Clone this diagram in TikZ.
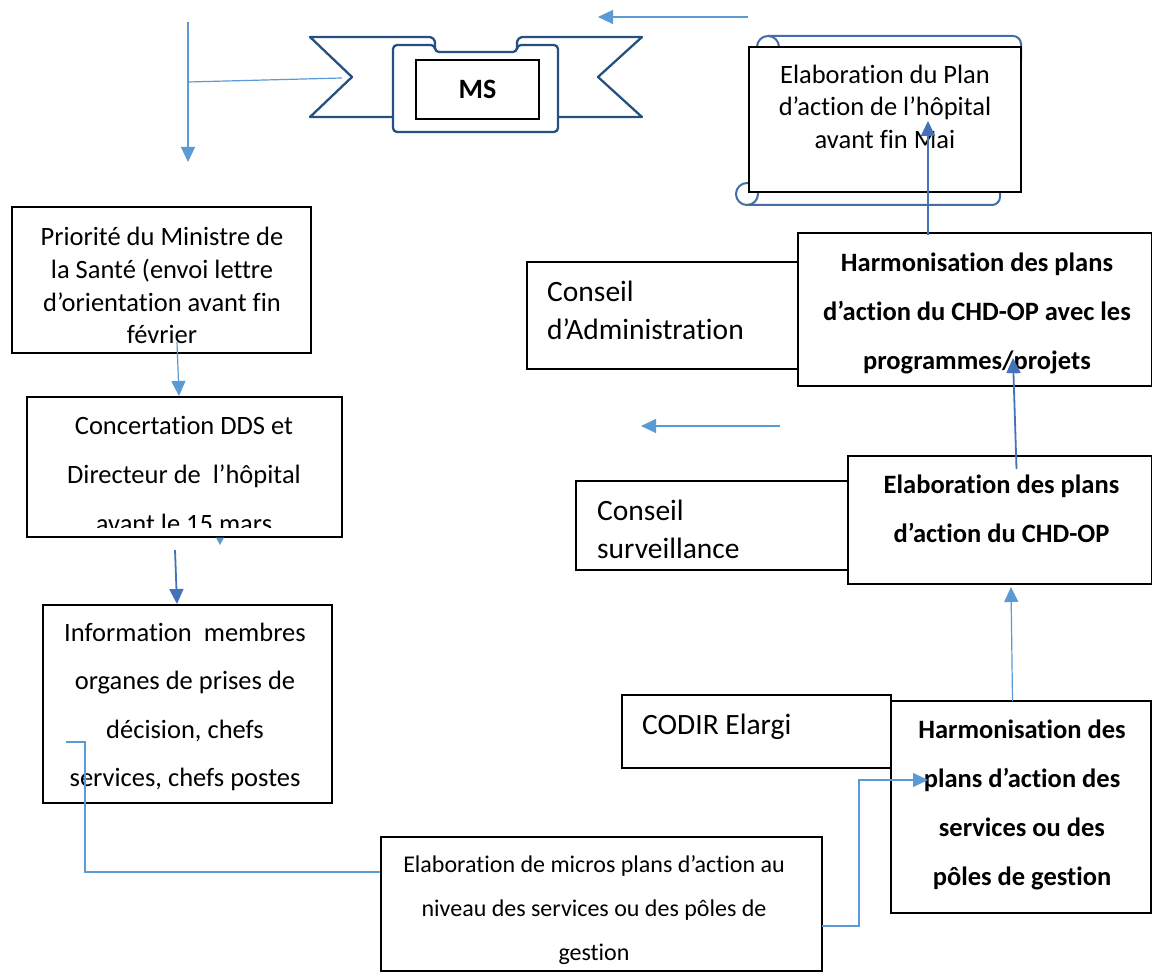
\documentclass[tikz,border=0pt]{standalone}
\usepackage{fontspec}
\setmainfont{Carlito}[Ligatures={NoCommon,NoContextual,NoRare}, RawFeature=-calt]
\usetikzlibrary{arrows.meta,fit}
\definecolor{lblue}{RGB}{91,155,213}
\definecolor{dblue}{RGB}{68,114,185}
\definecolor{bannerblue}{RGB}{38,80,128}
\definecolor{scrollblue}{RGB}{66,110,165}
\begin{document}
\begin{tikzpicture}[x=1pt,y=-1pt,
  box/.style={draw=black, line width=1.7pt, fill=white, inner sep=0pt},
  txt/.style={inner sep=0pt, align=center, font=\fontsize{26.5}{49}\selectfont},
  txtsingle/.style={txt, font=\fontsize{26.5}{32.6}\selectfont},
  txtbold/.style={txt, font=\bfseries\fontsize{26.5}{49}\selectfont},
  side/.style={inner sep=0pt, align=left, anchor=west, font=\fontsize{29.5}{38}\selectfont},
  link/.style={draw=lblue, line width=1.2pt},
  arr/.style={link, -{Triangle[length=15pt,width=14pt]}},
  darr/.style={draw=dblue, line width=1.8pt, -{Triangle[length=15pt,width=14pt]}},
  banner/.style={draw=bannerblue, line width=2.3pt, fill=white, line join=round},
  scroll/.style={draw=scrollblue, line width=2pt},
]
\useasboundingbox (0,0) rectangle (1153,973);
\fill[white] (0,0) rectangle (1153,973);

% ---- ribbon "MS"
\draw[banner] (393,117) -- (310,117) -- (352,77) -- (310,37) [rounded corners=6pt] -- (435,37) -- (435,52);
\draw[banner] (558,117) -- (642,117) -- (598,77) -- (642,37) [rounded corners=6pt] -- (517,37) -- (517,52);
\draw[banner, rounded corners=4pt] (435,52) -- (435,45) -- (393,45) -- (393,132) -- (558,132) -- (558,45) -- (517,45) -- (517,52) -- cycle;
\node[draw=black, line width=1.3pt, fill=white, inner sep=0pt, fit={(416,60) (539,119)}] (ms) {};
\node[anchor=base, inner sep=0pt, font=\bfseries\fontsize{28}{34}\selectfont] (msT) at (477.5,99) {MS};

% ---- scroll
\draw[scroll] (768,36) [rounded corners=8pt] -- (1021,36) -- (1021,60);
\draw[scroll] (747,205) [rounded corners=8pt] -- (1000,205) -- (1000,180);
\draw[scroll] (768,47) circle (11);
\draw[scroll] (747,194) circle (11);
\node[box, fit={(749,47) (1021,192)}] (plan) {};
\node[txtsingle] (planT) at (885,109.2) {\strut Elaboration du Plan\\ \strut d’action de l’hôpital\\ \strut avant fin Mai};

% ---- left column
\node[box, fit={(12,207) (311,353)}] (prio) {};
\node[txt, font=\fontsize{26.5}{32.7}\selectfont] (prioT) at (162,288.4) {\strut Priorité du Ministre de\\ \strut la Santé (envoi lettre\\ \strut d’orientation avant fin\\ \strut février};

\node[box, fit={(27,397) (342,537)}] (conc) {};
\begin{scope}
  \clip (27,397) rectangle (342,527);
  \node[txt] (concT) at (184,473.2) {\strut Concertation DDS et\\ \strut Directeur de\ \ l’hôpital\\ \strut avant le 15 mars};
\end{scope}

\node[box, fit={(43,605) (332,803)}] (info) {};
\node[txt, font=\fontsize{26.5}{48.5}\selectfont] (infoT) at (185,704.5) {\strut Information\ \ membres\\ \strut organes de prises de\\ \strut décision, chefs\\ \strut services, chefs postes};

\node[box, fit={(381,837) (822,971)}] (micro) {};
\node[txt, font=\fontsize{24}{44}\selectfont] (microT) at (594,907.5) {\strut Elaboration de micros plans d’action au\\ \strut niveau des services ou des pôles de\\ \strut gestion};

% ---- right column
\node[box, fit={(527,262) (798,369)}] (admin) {};
\node[side] (adminT) at (547,312.4) {\strut Conseil\\ \strut d’Administration};
\node[box, fit={(798,233) (1151.5,386)}] (harm1) {};
\node[txtbold] (harm1T) at (977,310.2) {\strut Harmonisation des plans\\ \strut d’action du CHD-OP avec les\\ \strut programmes/projets};

\node[box, fit={(576,481) (848,570)}] (surv) {};
\node[side] (survT) at (597,531.4) {\strut Conseil\\ \strut surveillance};
\node[box, fit={(848,456) (1151.5,584)}] (elab) {};
\node[txtbold] (elabT) at (1001.5,508) {\strut Elaboration des plans\\ \strut d’action du CHD-OP};

\node[box, fit={(622,695) (891,768)}] (codir) {};
\node[inner sep=0pt, anchor=base west, font=\fontsize{29.5}{36}\selectfont] (codirT) at (642,734) {CODIR Elargi};
\node[box, fit={(891,701) (1151,913)}] (harm2) {};
\node[txtbold] (harm2T) at (1022,801.8) {\strut Harmonisation des\\ \strut plans d’action des\\ \strut services ou des\\ \strut pôles de gestion};

% ---- connector end points
\coordinate (vTop) at (188,22);
\coordinate (vJoin) at (188,82);
\coordinate (vEnd) at (188,162);
\coordinate (msNotch) at (342,78);
\coordinate (topFrom) at (748,17);
\coordinate (topTo) at (598,17);
\coordinate (midFrom) at (780,426);
\coordinate (midTo) at (641,426);
\coordinate (prioOut) at (177,342);
\coordinate (concIn) at (179,396);
\coordinate (concOut) at (175,550);
\coordinate (infoIn) at (177,604);
\coordinate (infoOut) at (66,742);
\coordinate (infoBend) at (85,872);
\coordinate (microOut) at (822,926);
\coordinate (microBend) at (859,780);
\coordinate (harm2In) at (928,780);
\coordinate (harm2Out) at (1012.5,701);
\coordinate (elabIn) at (1011,587);
\coordinate (elabOut) at (1016.5,469);
\coordinate (harm1In) at (1013,358);
\coordinate (harm1Out) at (928,235);
\coordinate (planIn) at (928,121);

% ---- connectors
\draw[arr] (vTop) -- (vEnd);
\draw[link] (vJoin) -- (msNotch);
\draw[arr] (topFrom) -- (topTo);
\draw[arr] (midFrom) -- (midTo);
\draw[arr] (prioOut) -- (concIn);
\fill[lblue] (216,537.5) -- (224,537.5) -- (220,545) -- cycle;
\draw[darr] (concOut) -- (infoIn);
\draw[link] (infoOut) -| (infoBend) -- (infoBend -| micro.west);
\draw[arr] (microOut) -- (microOut -| microBend) |- (harm2In);
\draw[arr] (harm2Out) -- (elabIn);
\draw[darr] (elabOut) -- (harm1In);
\draw[darr] (harm1Out) -- (planIn);
\end{tikzpicture}
\end{document}
